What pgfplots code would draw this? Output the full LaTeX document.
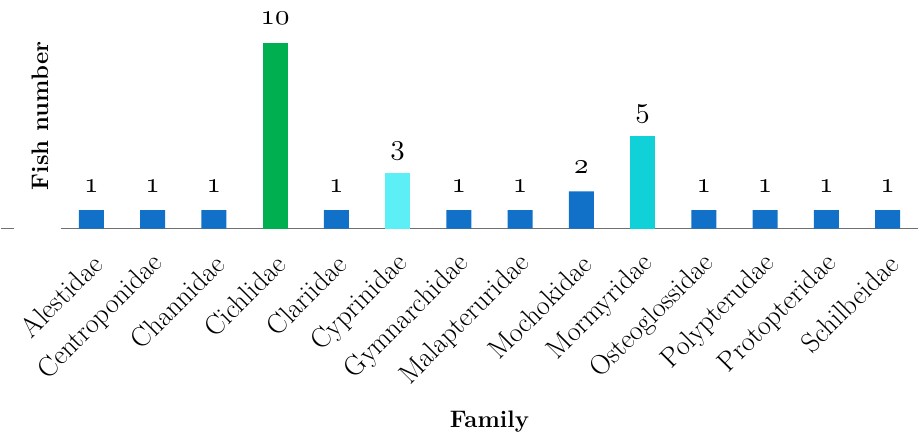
\documentclass[border=0pt]{standalone}
\usepackage{pgfplots}
\pgfplotsset{compat=1.18}
\definecolor{cblue}{HTML}{1170C8}
\definecolor{cgreen}{HTML}{00B050}
\definecolor{clcyan}{HTML}{5CF0F6}
\definecolor{ccyan}{HTML}{10D0D8}
\definecolor{axgray}{HTML}{707070}
\DeclareFontFamily{OML}{mycmm}{\skewchar\font127 }
\DeclareFontShape{OML}{mycmm}{m}{it}{<->cmmi10}{}
\newcommand\osn[1]{{\usefont{OML}{mycmm}{m}{it}#1}}
\begin{document}
\begin{tikzpicture}
\begin{axis}[
  scale only axis,
  width=859bp, height=229bp,
  xmin=-0.5, xmax=13.5,
  ymin=0, ymax=12.312,
  axis y line*=left,
  y axis line style={draw=none},
  ytick=\empty,
  axis x line*=bottom,
  x axis line style={draw=axgray, line width=1.6bp, -},
  xtick={0,...,13},
  xticklabels={Alestidae,Centroponidae,Channidae,Cichlidae,Clariidae,Cyprinidae,Gymnarchidae,Malapteruridae,Mochokidae,Mormyridae,Osteoglossidae,Polypterudae,Protopteridae,Schilbeidae},
  major tick length=0pt,
  xticklabel style={xshift=6bp, rotate=45, anchor=east, inner sep=0pt, font=\fontsize{28}{30}\selectfont},
  xticklabel shift=31bp,
  xlabel={Family},
  xlabel style={at={(rel axis cs:0.5,-0.869)}, anchor=base, font=\fontsize{24}{28}\selectfont\bfseries},
  ylabel={Fish number},
  ylabel style={at={(rel axis cs:-0.02328,0.4934)}, anchor=center, font=\fontsize{24}{28}\selectfont\bfseries},
  ybar, bar width=25bp, bar shift=0pt,
  point meta=explicit symbolic,
  nodes near coords={\osn{\pgfplotspointmeta}},
  every node near coord/.append style={anchor=base, yshift=18bp, font=\fontsize{29}{30}\selectfont, text=black},
  clip=false,
]
\addplot[draw=none, fill=cblue] coordinates {
(0,1) [1] (1,1) [1] (2,1) [1] (4,1) [1] (6,1) [1] (7,1) [1] (8,2) [2] (10,1) [1] (11,1) [1] (12,1) [1] (13,1) [1]};
\addplot[draw=none, fill=cgreen] coordinates {(3,10) [10]};
\addplot[draw=none, fill=clcyan] coordinates {(5,3) [3]};
\addplot[draw=none, fill=ccyan] coordinates {(9,5) [5]};
\end{axis}
\draw[axgray, line width=1.6bp] (-60bp,0) -- (-47bp,0);
\path[use as bounding box] (-60bp,-208bp) rectangle (859bp,229bp);
\end{tikzpicture}
\end{document}
